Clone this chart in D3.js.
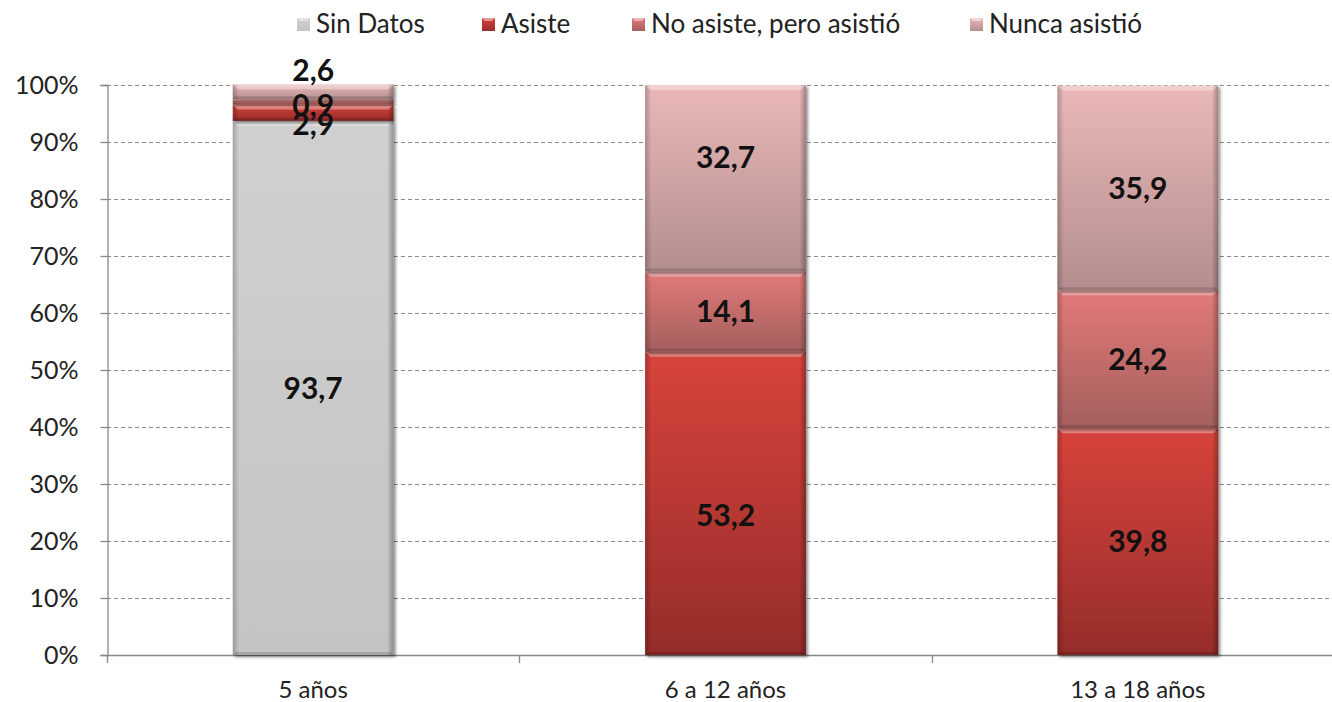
<!DOCTYPE html>
<html><head><meta charset="utf-8">
<script src="https://cdn.jsdelivr.net/npm/d3@7"></script>
<style>body{margin:0;background:#fff}svg{display:block}text{font-family:Lato,"Open Sans",sans-serif}</style>
</head><body><svg id="c" width="1332" height="702"></svg>
<script>
const categories = ["5 años", "6 a 12 años", "13 a 18 años"];
const seriesNames = ["Sin Datos", "Asiste", "No asiste, pero asistió", "Nunca asistió"];
const sinDatos = [93.7, 0, 0];
const asiste = [2.9, 53.2, 39.8];
const noAsiste = [0.9, 14.1, 24.2];
const nunca = [2.6, 32.7, 35.9];
const yTicks = [0, 10, 20, 30, 40, 50, 60, 70, 80, 90, 100];

const colors = {
  "Sin Datos": ["#d0d0d0", "#c4c4c4"],
  "Asiste": ["#d8443c", "#962c2a"],
  "No asiste, pero asistió": ["#e27a78", "#a45f5e"],
  "Nunca asistió": ["#ebb8b8", "#b48e8e"]
};
const seriesVals = [sinDatos, asiste, noAsiste, nunca];

const svg = d3.select("#c");
const W = 1332, H = 702;
const m = {left: 107, top: 85, bottom: 655, right: 1344};
const x = d3.scaleBand().domain(categories).range([m.left, m.right]).paddingInner(0.61).paddingOuter(0.305);
const y = d3.scaleLinear().domain([0, 100]).range([m.bottom, m.top]);

const defs = svg.append("defs");
seriesNames.forEach((s, i) => {
  const g = defs.append("linearGradient").attr("id", "g" + i).attr("x1", 0).attr("y1", 0).attr("x2", 0).attr("y2", 1);
  g.append("stop").attr("offset", "0%").attr("stop-color", colors[s][0]);
  g.append("stop").attr("offset", "100%").attr("stop-color", colors[s][1]);
});
const side = defs.append("linearGradient").attr("id", "side").attr("x1", 0).attr("x2", 1).attr("y1", 0).attr("y2", 0);
side.append("stop").attr("offset", "0").attr("stop-color", "#000").attr("stop-opacity", 0.22);
side.append("stop").attr("offset", "0.04").attr("stop-color", "#000").attr("stop-opacity", 0.0);
side.append("stop").attr("offset", "0.96").attr("stop-color", "#000").attr("stop-opacity", 0.0);
side.append("stop").attr("offset", "1").attr("stop-color", "#000").attr("stop-opacity", 0.3);
const sh = defs.append("filter").attr("id", "shadow").attr("x", "-10%").attr("y", "-10%").attr("width", "130%").attr("height", "130%");
sh.append("feGaussianBlur").attr("in", "SourceAlpha").attr("stdDeviation", 1.5).attr("result", "b");
sh.append("feOffset").attr("in", "b").attr("dx", 2).attr("dy", 2).attr("result", "o");
sh.append("feComponentTransfer").attr("in", "o").attr("result", "o2").append("feFuncA").attr("type", "linear").attr("slope", 0.45);
const mg = sh.append("feMerge"); mg.append("feMergeNode").attr("in", "o2"); mg.append("feMergeNode").attr("in", "SourceGraphic");

// gridlines
svg.append("g").selectAll("line").data(yTicks.filter(t => t > 0)).join("line")
  .attr("x1", m.left).attr("x2", W).attr("y1", d => y(d) + 0.5).attr("y2", d => y(d) + 0.5)
  .attr("stroke", "#8c8c8c").attr("stroke-width", 1).attr("stroke-dasharray", "4,3");

// y axis
const yAxis = svg.append("g").attr("transform", `translate(${m.left + 0.5},0)`)
  .call(d3.axisLeft(y).tickValues(yTicks).tickFormat(d => d + "%").tickSize(7).tickPadding(22));
yAxis.select(".domain").attr("stroke", "#888").attr("stroke-width", 1.3);
yAxis.selectAll(".tick line").attr("stroke", "#888").attr("stroke-width", 1.3);
yAxis.selectAll("text").attr("font-size", 25).attr("fill", "#222").attr("font-family", "Lato,sans-serif");

// x axis
const xAxis = svg.append("g").attr("transform", `translate(0,${m.bottom + 0.5})`)
  .call(d3.axisBottom(x).tickSize(0).tickPadding(25));
xAxis.select(".domain").attr("stroke", "#888").attr("stroke-width", 1.3).attr("d", `M${m.left},0H${W}`);
xAxis.selectAll("text").attr("font-size", 24).attr("fill", "#222").attr("font-family", "Lato,sans-serif");
const step = x.step();
const bounds = [0, 1, 2].map(i => m.left + i * step);
svg.append("g").selectAll("line").data(bounds).join("line")
  .attr("x1", d => Math.round(d) + 0.5).attr("x2", d => Math.round(d) + 0.5)
  .attr("y1", m.bottom).attr("y2", m.bottom + 8).attr("stroke", "#888").attr("stroke-width", 1.3);

// stack
const rows = categories.map((c, i) => {
  const o = {cat: c};
  seriesNames.forEach((s, k) => o[s] = seriesVals[k][i]);
  return o;
});
const stack = d3.stack().keys(seriesNames)(rows);

const bw = x.bandwidth();
const barG = svg.append("g");
stack.forEach((layer, si) => {
  layer.forEach(d => {
    const v = d[1] - d[0];
    if (v <= 0) return;
    const cx = x(d.data.cat), y0 = y(d[0]), y1 = y(d[1]);
    const h = y0 - y1;
    const g = barG.append("g").attr("filter", "url(#shadow)");
    g.append("rect").attr("x", cx).attr("y", y1).attr("width", bw).attr("height", h).attr("fill", `url(#g${si})`);
    g.append("rect").attr("x", cx).attr("y", y1).attr("width", bw).attr("height", h).attr("fill", "url(#side)");
    const bh = Math.min(5, h / 3);
    g.append("path").attr("d", `M${cx},${y1}H${cx + bw}L${cx + bw - bh},${y1 + bh}H${cx + bh}Z`)
      .attr("fill", "#fff").attr("opacity", 0.35);
    const bb = Math.min(3, h / 4);
    g.append("path").attr("d", `M${cx},${y0}H${cx + bw}L${cx + bw - bb},${y0 - bb}H${cx + bb}Z`)
      .attr("fill", "#000").attr("opacity", 0.15);
  });
});

// labels (some nudged as in the original)
const nudge = {
  "5 años": {"Asiste": 12, "No asiste, pero asistió": 3, "Nunca asistió": -22},
  "6 a 12 años": {"Asiste": 12, "Nunca asistió": -21}
};
const fmt = v => d3.format(".1f")(v).replace(".", ",");
const lblG = svg.append("g");
stack.forEach((layer, si) => {
  layer.forEach(d => {
    const v = d[1] - d[0];
    if (v <= 0) return;
    const cyv = (y(d[0]) + y(d[1])) / 2 + ((nudge[d.data.cat] || {})[layer.key] || 0);
    lblG.append("text").attr("x", x(d.data.cat) + bw / 2).attr("y", cyv).attr("dy", "0.36em")
      .attr("text-anchor", "middle").attr("font-size", 30).attr("font-weight", "bold").attr("fill", "#111")
      .text(fmt(seriesVals[si][categories.indexOf(d.data.cat)]));
  });
});

// legend
const legX = [297, 482, 632, 970];
const leg = svg.append("g");
seriesNames.forEach((s, i) => {
  const g = leg.append("g").attr("transform", `translate(${legX[i]},18)`);
  g.append("rect").attr("width", 13).attr("height", 13).attr("fill", `url(#g${i})`);
  g.append("path").attr("d", "M0,0H13L10,3H3Z").attr("fill", "#fff").attr("opacity", 0.45);
  g.append("text").attr("x", 19).attr("y", 6).attr("dy", "0.36em").attr("font-size", 26).attr("fill", "#222").text(s);
});
</script></body></html>
